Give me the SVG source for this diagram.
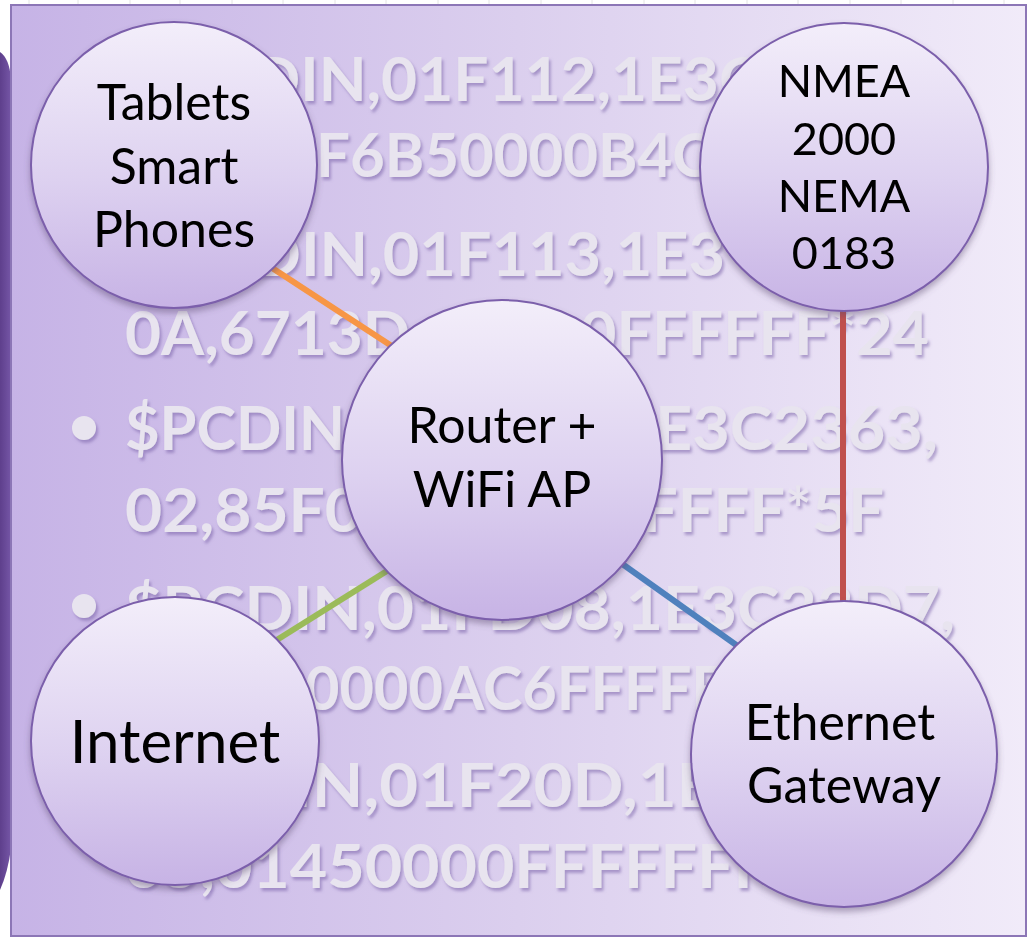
<svg xmlns="http://www.w3.org/2000/svg" width="1028" height="937" viewBox="0 0 1028 937">
  <defs>
    <linearGradient id="panelFill" x1="0" y1="0" x2="1" y2="0">
      <stop offset="0" stop-color="#c6b3e6"/>
      <stop offset="0.5" stop-color="#dbcfee"/>
      <stop offset="1" stop-color="#f1ebf9"/>
    </linearGradient>
    <linearGradient id="nodeFill" x1="0" y1="0" x2="0" y2="1">
      <stop offset="0" stop-color="#f3eefa"/>
      <stop offset="0.55" stop-color="#ddd1f0"/>
      <stop offset="1" stop-color="#c7b3e5"/>
    </linearGradient>
    <linearGradient id="barFill" x1="0" y1="0" x2="1" y2="0">
      <stop offset="0" stop-color="#5e3f8c"/>
      <stop offset="1" stop-color="#7556a6"/>
    </linearGradient>
    <filter id="emboss" x="-5%" y="-20%" width="110%" height="150%">
      <feDropShadow dx="2" dy="3" stdDeviation="1.6" flood-color="#7a62a8" flood-opacity="0.55"/>
    </filter>
    <filter id="nodeShadow" x="-10%" y="-10%" width="120%" height="125%">
      <feDropShadow dx="0" dy="4" stdDeviation="3" flood-color="#5a4a70" flood-opacity="0.45"/>
    </filter>
    <style>
      .bg { font-family: Lato, "Open Sans", sans-serif; font-weight: 700; font-size: 62px; fill: #e8e4ef; }
      .dot { fill: #e8e4ef; }
      .node { fill: url(#nodeFill); stroke: #7b5fab; stroke-width: 2; }
      .label { font-family: Lato, "Open Sans", sans-serif; font-size: 50px; fill: #000; text-anchor: middle; }
      .wire { stroke-width: 6; fill: none; }
      .grid { stroke: #e4e4e4; stroke-width: 1; }
    </style>
  </defs>

  <!-- page behind the panel -->
  <rect x="0" y="0" width="1028" height="937" fill="#ffffff"/>
  <g class="grid">
    <line x1="29" y1="0" x2="29" y2="5"/><line x1="78" y1="0" x2="78" y2="5"/>
    <line x1="130" y1="0" x2="130" y2="5"/><line x1="180" y1="0" x2="180" y2="5"/>
    <line x1="232" y1="0" x2="232" y2="5"/><line x1="283" y1="0" x2="283" y2="5"/>
    <line x1="335" y1="0" x2="335" y2="5"/><line x1="386" y1="0" x2="386" y2="5"/>
    <line x1="438" y1="0" x2="438" y2="5"/><line x1="489" y1="0" x2="489" y2="5"/>
    <line x1="541" y1="0" x2="541" y2="5"/><line x1="592" y1="0" x2="592" y2="5"/>
    <line x1="644" y1="0" x2="644" y2="5"/><line x1="695" y1="0" x2="695" y2="5"/>
    <line x1="747" y1="0" x2="747" y2="5"/><line x1="798" y1="0" x2="798" y2="5"/>
    <line x1="850" y1="0" x2="850" y2="5"/><line x1="901" y1="0" x2="901" y2="5"/>
    <line x1="953" y1="0" x2="953" y2="5"/><line x1="1004" y1="0" x2="1004" y2="5"/>
  </g>

  <!-- dark side bar at the left edge -->
  <path d="M0,52 Q9,58 11,78 L11,848 Q8,872 0,890 Z" fill="url(#barFill)"/>

  <!-- panel -->
  <rect x="11" y="5" width="1015" height="931" fill="url(#panelFill)" stroke="#8c76b6" stroke-width="2"/>

  <!-- faded sentence text in the panel background -->
  <g id="backdrop-text" filter="url(#emboss)">
    <circle class="dot" cx="84" cy="428" r="12"/>
    <circle class="dot" cx="84" cy="606" r="12"/>
    <text class="bg" x="253" y="101" textLength="507" lengthAdjust="spacingAndGlyphs">DIN,01F112,1E3C</text>
    <text class="bg" x="316" y="177" textLength="396" lengthAdjust="spacingAndGlyphs">F6B50000B4C</text>
    <text class="bg" x="253" y="276" textLength="472" lengthAdjust="spacingAndGlyphs">DIN,01F113,1E3</text>
    <text class="bg" x="125" y="355" textLength="285" lengthAdjust="spacingAndGlyphs">0A,6713D</text>
    <text class="bg" x="580" y="355" textLength="349" lengthAdjust="spacingAndGlyphs">0FFFFFF*24</text>
    <text class="bg" x="125" y="450" textLength="220" lengthAdjust="spacingAndGlyphs">$PCDIN</text>
    <text class="bg" x="655" y="450" textLength="283" lengthAdjust="spacingAndGlyphs">E3C2363,</text>
    <text class="bg" x="125" y="532" textLength="237" lengthAdjust="spacingAndGlyphs">02,85F0</text>
    <text class="bg" x="642" y="532" textLength="242" lengthAdjust="spacingAndGlyphs">FFFF*5F</text>
    <text class="bg" x="125" y="630" textLength="830" lengthAdjust="spacingAndGlyphs">$PCDIN,01FD08,1E3C23D7,</text>
    <text class="bg" x="305" y="710" textLength="420" lengthAdjust="spacingAndGlyphs">0000AC6FFFFF</text>
    <text class="bg" x="292" y="807" textLength="423" lengthAdjust="spacingAndGlyphs">IN,01F20D,1E</text>
    <text class="bg" x="125" y="888" textLength="645" lengthAdjust="spacingAndGlyphs">05,01450000FFFFFFF</text>
  </g>

  <!-- links between devices -->
  <g id="connectors">
    <line class="wire" x1="240" y1="247" x2="430" y2="371" stroke="#f79646"/>
    <line class="wire" x1="240" y1="663" x2="430" y2="544" stroke="#9bbb59"/>
    <line class="wire" x1="590" y1="541" x2="770" y2="669" stroke="#4f81bd"/>
    <line class="wire" x1="843" y1="280" x2="843" y2="630" stroke="#c0504d"/>
  </g>

  <g id="node-tablets" filter="url(#nodeShadow)">
    <circle class="node" cx="174" cy="165" r="143"/>
    <text class="label" x="174" y="120">Tablets</text>
    <text class="label" x="174" y="184">Smart</text>
    <text class="label" x="174" y="247">Phones</text>
  </g>

  <g id="node-nmea" filter="url(#nodeShadow)">
    <circle class="node" cx="844" cy="167" r="144"/>
    <text class="label" x="844" y="97" style="font-size:45px">NMEA</text>
    <text class="label" x="844" y="155" style="font-size:45px">2000</text>
    <text class="label" x="844" y="212" style="font-size:45px">NEMA</text>
    <text class="label" x="844" y="269" style="font-size:45px">0183</text>
  </g>

  <g id="node-router" filter="url(#nodeShadow)">
    <circle class="node" cx="502" cy="460" r="160"/>
    <text class="label" x="502" y="443">Router +</text>
    <text class="label" x="502" y="507">WiFi AP</text>
  </g>

  <g id="node-internet" filter="url(#nodeShadow)">
    <circle class="node" cx="175" cy="741" r="144"/>
    <text class="label" x="175" y="763" style="font-size:60px">Internet</text>
  </g>

  <g id="node-gateway" filter="url(#nodeShadow)">
    <circle class="node" cx="844" cy="754" r="153"/>
    <text class="label" x="840" y="740">Ethernet</text>
    <text class="label" x="844" y="803">Gateway</text>
  </g>
</svg>
